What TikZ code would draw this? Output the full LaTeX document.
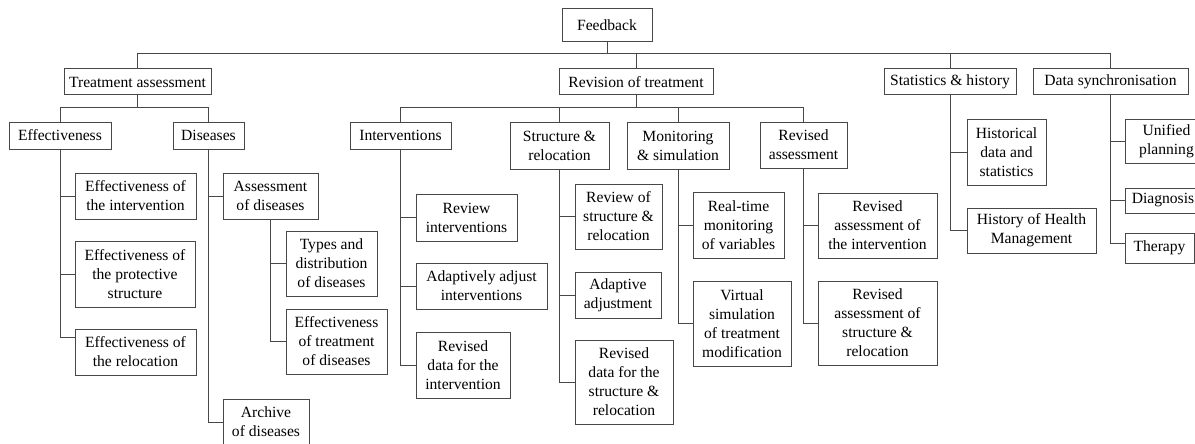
\documentclass[tikz,border=0pt]{standalone}
\usepackage{fontspec}
\setmainfont{Liberation Serif}
\begin{document}
\begin{tikzpicture}[x=1pt,y=-1pt,
  box/.style={draw=black!72, line width=1pt, inner sep=0pt, align=center,
    font=\fontsize{15.6}{19}\selectfont, text=black},
  link/.style={draw=black!72, line width=1pt}]
\useasboundingbox (0,0) rectangle (1195,444);

% bus levels
\coordinate (busA) at (0,54);
\coordinate (busB) at (0,108);

% root and first level
\node[box, minimum width=90, minimum height=33] (feedback) at (607,25.5) {Feedback};
\node[box, minimum width=147, minimum height=26] (ta) at (137.5,82) {Treatment assessment};
\node[box, minimum width=154, minimum height=26] (rt) at (636,82) {Revision of treatment};
\node[box, minimum width=132, minimum height=26] (sh) at (950,82) {Statistics \& history};
\node[box, minimum width=155, minimum height=26] (ds) at (1110.5,82) {Data synchronisation};

% treatment assessment branch
\node[box, minimum width=102, minimum height=27] (eff) at (60,135.5) {Effectiveness};
\node[box, minimum width=71, minimum height=27] (dis) at (208.5,135.5) {Diseases};
\node[box, minimum width=121, minimum height=46] (eff1) at (135.5,196) {Effectiveness of\\the intervention};
\node[box, minimum width=120, minimum height=66] (eff2) at (135,274) {Effectiveness of\\the protective\\structure};
\node[box, minimum width=121, minimum height=46] (eff3) at (135.5,352) {Effectiveness of\\the relocation};
\node[box, minimum width=95, minimum height=46] (ad) at (270.5,196) {Assessment\\of diseases};
\node[box, minimum width=86, minimum height=46] (arc) at (266,422) {Archive\\of diseases};
\node[box, minimum width=91, minimum height=65] (td) at (331.5,263.5) {Types and\\distribution\\of diseases};
\node[box, minimum width=101, minimum height=65] (etd) at (336.5,341.5) {Effectiveness\\of treatment\\of diseases};

% revision of treatment branch
\node[box, minimum width=101, minimum height=27] (int) at (400.5,135.5) {Interventions};
\node[box, minimum width=99, minimum height=47] (sr) at (559.5,145.5) {Structure \&\\relocation};
\node[box, minimum width=102, minimum height=47] (ms) at (678,145.5) {Monitoring\\\& simulation};
\node[box, minimum width=87, minimum height=46] (ra) at (803.5,145) {Revised\\assessment};
\node[box, minimum width=101, minimum height=47] (ri) at (466.5,217.5) {Review\\interventions};
\node[box, minimum width=131, minimum height=46] (aai) at (481.5,286) {Adaptively adjust\\interventions};
\node[box, minimum width=94, minimum height=66] (rdi) at (463,365) {Revised\\data for the\\intervention};
\node[box, minimum width=87, minimum height=65] (rsr) at (618.5,216.5) {Review of\\structure \&\\relocation};
\node[box, minimum width=86, minimum height=46] (aa) at (618,295) {Adaptive\\adjustment};
\node[box, minimum width=98, minimum height=84] (rdsr) at (624,382) {Revised\\data for the\\structure \&\\relocation};
\node[box, minimum width=91, minimum height=66] (rtm) at (738.5,225) {Real-time\\monitoring\\of variables};
\node[box, minimum width=98, minimum height=85] (vs) at (742,323.5) {Virtual\\simulation\\of treatment\\modification};
\node[box, minimum width=119, minimum height=65] (rai) at (877.5,225.5) {Revised\\assessment of\\the intervention};
\node[box, minimum width=119, minimum height=84] (rasr) at (877.5,323) {Revised\\assessment of\\structure \&\\relocation};

% statistics and data branches
\node[box, minimum width=79, minimum height=66] (hds) at (1006.5,152) {Historical\\data and\\statistics};
\node[box, minimum width=129, minimum height=45] (hhm) at (1031.5,230.5) {History of Health\\Management};
\node[box, minimum width=83, minimum height=44] (up) at (1166.5,141) {Unified\\planning};
\node[box, minimum width=76, minimum height=25] (dg) at (1163,200.5) {Diagnosis};
\node[box, minimum width=69, minimum height=30] (th) at (1159.5,248) {Therapy};

% top bus
\draw[link] (feedback.south) -- (feedback.south |- busA);
\draw[link] (ta.north) |- (busA -| ds.north) -- (ds.north);
\draw[link] (rt.north) -- (rt.north |- busA);
\draw[link] (sh.north) -- (sh.north |- busA);

% second buses
\draw[link] (ta.south) -- (ta.south |- busB);
\draw[link] (eff.north) |- (busB -| dis.north) -- (dis.north);
\draw[link] (rt.south) -- (rt.south |- busB);
\draw[link] (int.north) |- (busB -| ra.north) -- (ra.north);
\draw[link] (sr.north) -- (sr.north |- busB);
\draw[link] (ms.north) -- (ms.north |- busB);

% side branches
\draw[link] (eff.south) |- (eff1.west);
\draw[link] (eff.south) |- (eff2.west);
\draw[link] (eff.south) |- ([yshift=15pt]eff3.west);
\draw[link] (dis.south) |- (ad.west);
\draw[link] (dis.south) |- (arc.west);
\draw[link] (ad.south) |- (td.west);
\draw[link] (ad.south) |- (etd.west);
\draw[link] (int.south) |- (ri.west);
\draw[link] (int.south) |- (aai.west);
\draw[link] (int.south) |- (rdi.west);
\draw[link] (sr.south) |- (rsr.west);
\draw[link] (sr.south) |- (aa.west);
\draw[link] (sr.south) |- (rdsr.west);
\draw[link] (ms.south) |- (rtm.west);
\draw[link] (ms.south) |- (vs.west);
\draw[link] (ra.south) |- (rai.west);
\draw[link] (ra.south) |- (rasr.west);
\draw[link] (sh.south) |- (hds.west);
\draw[link] (sh.south) |- (hhm.west);
\draw[link] (ds.south) |- (up.west);
\draw[link] (ds.south) |- (dg.west);
\draw[link] (ds.south) |- ([yshift=5pt]th.west);
\end{tikzpicture}
\end{document}
